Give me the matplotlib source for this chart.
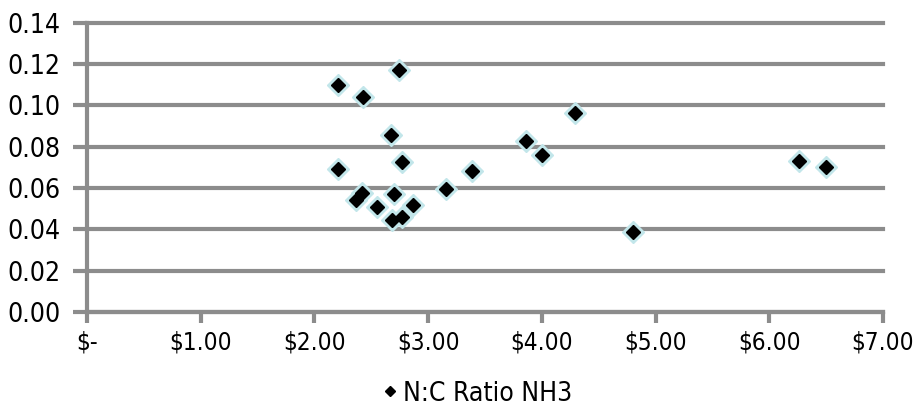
import matplotlib.pyplot as plt
from matplotlib.ticker import FixedLocator
from matplotlib.lines import Line2D

plt.rcParams['font.family'] = ['DejaVu Sans']
plt.rcParams['font.stretch'] = 'condensed'

# price ($) vs N:C ratio
price = [2.21, 2.43, 2.74, 2.67, 2.21, 2.77, 2.42, 2.37, 2.55, 2.70, 2.87,
         2.68, 2.77, 3.16, 3.39, 3.86, 4.00, 4.29, 4.80, 6.26, 6.50]
nc_ratio = [0.110, 0.104, 0.117, 0.0855, 0.0694, 0.0725, 0.0576, 0.0543, 0.0511, 0.0572, 0.0519,
            0.0445, 0.0462, 0.0595, 0.0684, 0.0828, 0.0762, 0.0965, 0.0386, 0.0733, 0.0702]

y_ticks = [0.00, 0.02, 0.04, 0.06, 0.08, 0.10, 0.12, 0.14]
x_ticks = [0, 1, 2, 3, 4, 5, 6, 7]
x_labels = ["$-", "$1.00", "$2.00", "$3.00", "$4.00", "$5.00", "$6.00", "$7.00"]
series_name = "N:C Ratio NH3"

fig = plt.figure(figsize=(9.15, 4.08), dpi=100)
ax = fig.add_axes([0.095, 0.235, 0.87, 0.709])

grid_col = '#8c8c8c'
ax.set_xlim(0, 7)
ax.set_ylim(0, 0.14)
ax.yaxis.set_major_locator(FixedLocator(y_ticks))
ax.set_yticklabels([f"{v:.2f}" for v in y_ticks])
ax.set_xticks(x_ticks)
ax.set_xticklabels(x_labels)
ax.grid(axis='y', color=grid_col, linewidth=3, zorder=0)
ax.set_axisbelow(True)
for gl in ax.get_ygridlines():
    gl.set_clip_on(False)

for s in ['top', 'right']:
    ax.spines[s].set_visible(False)
for s in ['left', 'bottom']:
    ax.spines[s].set_color(grid_col)
    ax.spines[s].set_linewidth(3)

ax.tick_params(axis='y', length=10, width=3, color=grid_col, labelsize=19, pad=9)
ax.tick_params(axis='x', length=8, width=3, color=grid_col, labelsize=17.5, pad=5)

# light cyan halo, then black diamonds
ax.plot(price, nc_ratio, linestyle='none', marker='D', markersize=11,
        color='#c2e6ea', zorder=3, clip_on=False)
ax.plot(price, nc_ratio, linestyle='none', marker='D', markersize=7.5,
        color='black', zorder=4, clip_on=False)

handle = Line2D([], [], linestyle='none', marker='D', markersize=5, color='black')
fig.legend([handle], [series_name], loc='center', bbox_to_anchor=(0.52, 0.035),
           frameon=False, fontsize=19, handletextpad=0.1, handlelength=0.8)

fig.savefig('out.png', dpi=100)
